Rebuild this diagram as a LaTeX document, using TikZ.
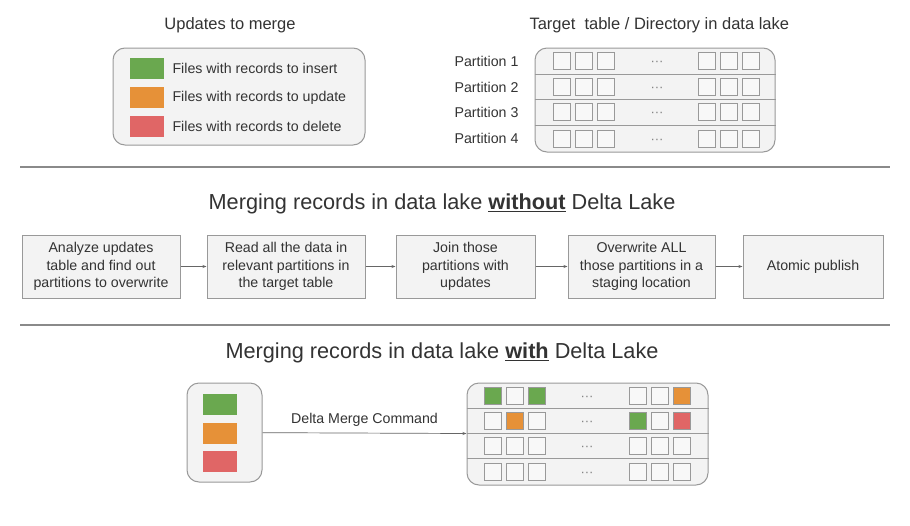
\documentclass[tikz,border=0pt]{standalone}
\usepackage{fontspec}
\setmainfont{Liberation Sans}
\usetikzlibrary{arrows.meta}
\definecolor{gfill}{HTML}{F3F3F3}
\definecolor{gline}{HTML}{999999}
\definecolor{sepc}{HTML}{8A8A8A}
\definecolor{txt}{HTML}{333333}
\definecolor{cgreen}{HTML}{6AA84F}
\definecolor{corange}{HTML}{E69138}
\definecolor{cred}{HTML}{E06666}
\definecolor{cwhite}{HTML}{F8F8F8}
\tikzset{
  small/.style={font=\fontsize{14.2}{17.5}\selectfont, text=txt},
  heading/.style={font=\fontsize{16.5}{20}\selectfont, text=txt},
  bigtitle/.style={font=\fontsize{21.7}{26}\selectfont, text=txt},
  panel/.style={draw=gline, fill=gfill, rounded corners=12pt, line width=1pt, inner sep=0pt},
  flowbox/.style={draw=gline, fill=gfill, line width=1pt, minimum height=63pt, align=center, small, inner sep=2pt},
  swatch/.style={draw=none, minimum width=34pt, minimum height=21pt, inner sep=0pt},
  cell/.style={draw=gline, line width=0.9pt, minimum width=17pt, minimum height=17pt, inner sep=0pt, fill=cwhite},
  sep/.style={draw=sepc, line width=1.1pt},
  rowline/.style={draw=gline, line width=1pt},
  flowarrow/.style={draw=gray!80!black, line width=0.7pt, -{Stealth[length=4pt,width=3pt]}},
  dots/.style={font=\fontsize{13}{14}\selectfont, text=gray, anchor=base, inner sep=0pt}
}
\begin{document}
\begin{tikzpicture}[x=1pt,y=-1pt]
\useasboundingbox[fill=white] (0,0) rectangle (910,525);

% ---------- top: updates legend ----------
\node[heading] (t1) at (230,25) {Updates to merge};
\node[panel, minimum width=252pt, minimum height=97pt] (leg) at (239,96.5) {};
\node[swatch, fill=cgreen]  (sg) at (146.5,68.5) {};
\node[swatch, fill=corange] (so) at (146.5,97.5) {};
\node[swatch, fill=cred]    (sr) at (146.5,126.5) {};
\node[small, anchor=west] (lg) at (169,68.5) {Files with records to insert};
\node[small, anchor=west] (lo) at (169,97.5) {Files with records to update};
\node[small, anchor=west] (lr) at (169,126.5) {Files with records to delete};

% ---------- top: target table ----------
\node[heading, anchor=west] (t2) at (526,25) {Target\ \ table / Directory in data lake};
\node[panel, minimum width=240pt, minimum height=104pt] (tt) at (655,100) {};
\draw[rowline] (tt.west |- 0,74) -- (tt.east |- 0,74);
\draw[rowline] (tt.west |- 0,99.5) -- (tt.east |- 0,99.5);
\draw[rowline] (tt.west |- 0,125) -- (tt.east |- 0,125);
\foreach \y/\n in {61/1,87/2,112/3,138.5/4}{
  \node[small, anchor=east] (p\n) at (522,\y) {Partition \n};
  \foreach \x/\k in {562/a,584/b,606/c,707/d,729/e,751/f}{
    \node[cell] (c\n\k) at (\x,\y) {};
  }
  \node[dots] (d\n) at (657,\y+4.5) {···};
}

% ---------- separator 1 ----------
\coordinate (s1a) at (20,167);
\coordinate (s1b) at (890,167);
\draw[sep] (s1a) -- (s1b);

% ---------- merging without Delta Lake ----------
\node[bigtitle] (t3) at (442,204) {Merging records in data lake \underline{\textbf{without}} Delta Lake};
\node[flowbox, minimum width=158pt] (b1) at (101,266.5) {Analyze updates\\table and find out\\partitions to overwrite};
\node[flowbox, minimum width=158pt] (b2) at (286,266.5) {Read all the data in\\relevant partitions in\\the target table};
\node[flowbox, minimum width=139pt] (b3) at (465.5,266.5) {Join those\\partitions with\\updates};
\node[flowbox, minimum width=147pt] (b4) at (641.5,266.5) {Overwrite ALL\\those partitions in a\\staging location};
\node[flowbox, minimum width=140pt] (b5) at (813,266.5) {Atomic publish};
\draw[flowarrow] (b1) -- (b2);
\draw[flowarrow] (b2) -- (b3);
\draw[flowarrow] (b3) -- (b4);
\draw[flowarrow] (b4) -- (b5);

% ---------- separator 2 ----------
\coordinate (s2a) at (20,325);
\coordinate (s2b) at (890,325);
\draw[sep] (s2a) -- (s2b);

% ---------- merging with Delta Lake ----------
\node[bigtitle] (t4) at (442,353) {Merging records in data lake \underline{\textbf{with}} Delta Lake};
\node[panel, minimum width=75pt, minimum height=99pt] (ub) at (224.5,432.5) {};
\node[swatch, fill=cgreen]  (ug) at (220,404.5) {};
\node[swatch, fill=corange] (uo) at (220,433.5) {};
\node[swatch, fill=cred]    (ur) at (220,461.5) {};

\node[panel, minimum width=241pt, minimum height=102pt] (tb) at (587.5,434) {};
\draw[rowline] (tb.west |- 0,408) -- (tb.east |- 0,408);
\draw[rowline] (tb.west |- 0,433) -- (tb.east |- 0,433);
\draw[rowline] (tb.west |- 0,458) -- (tb.east |- 0,458);
\foreach \y/\n in {395.5/1,420.5/2,445.5/3,471.5/4}{
  \node[dots] (e\n) at (587,\y+4.5) {···};
}
% row 1
\node[cell, fill=cgreen]  (r1a) at (493,395.5) {};
\node[cell]               (r1b) at (515,395.5) {};
\node[cell, fill=cgreen]  (r1c) at (537,395.5) {};
\node[cell]               (r1d) at (638,395.5) {};
\node[cell]               (r1e) at (660,395.5) {};
\node[cell, fill=corange] (r1f) at (682,395.5) {};
% row 2
\node[cell]               (r2a) at (493,420.5) {};
\node[cell, fill=corange] (r2b) at (515,420.5) {};
\node[cell]               (r2c) at (537,420.5) {};
\node[cell, fill=cgreen]  (r2d) at (638,420.5) {};
\node[cell]               (r2e) at (660,420.5) {};
\node[cell, fill=cred]    (r2f) at (682,420.5) {};
% rows 3 and 4
\foreach \y/\n in {445.5/3,471.5/4}{
  \foreach \x/\k in {493/a,515/b,537/c,638/d,660/e,682/f}{
    \node[cell] (r\n\k) at (\x,\y) {};
  }
}
\draw[flowarrow] (ub) -- node[small, above=3pt] (ml) {Delta Merge Command} (tb);
\end{tikzpicture}
\end{document}
